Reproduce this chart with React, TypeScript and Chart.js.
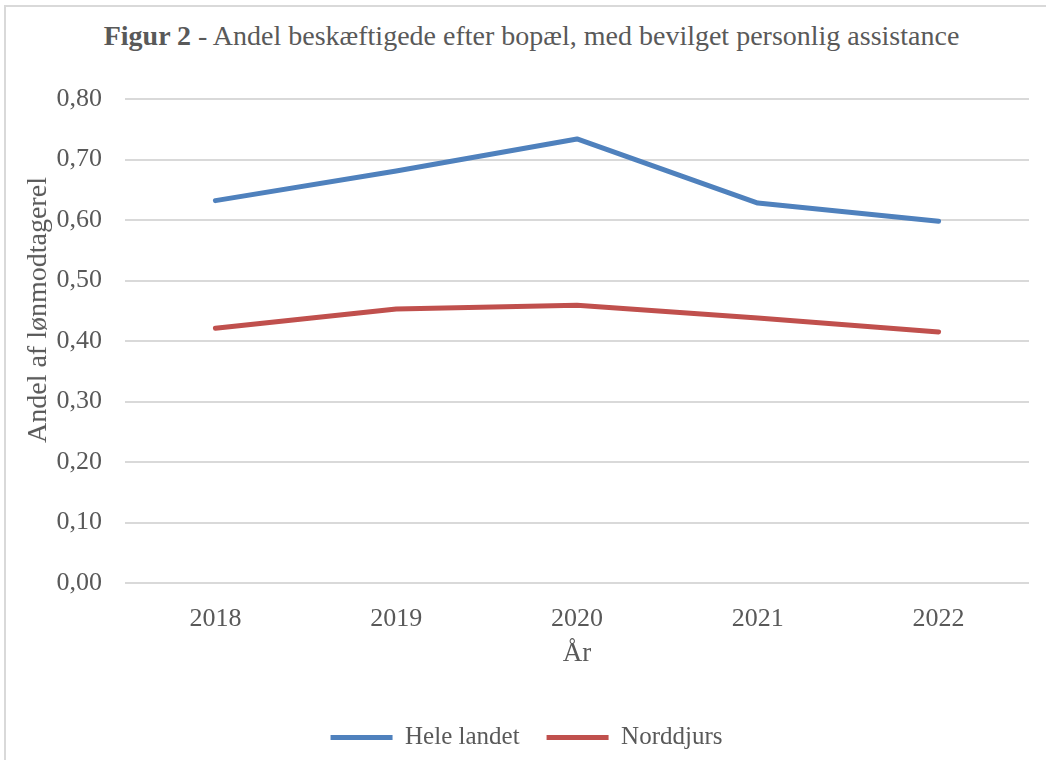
import { useEffect, useRef } from "react";
import { Chart, registerables } from "chart.js";

Chart.register(...registerables);

const years = ["2018", "2019", "2020", "2021", "2022"];
const heleLandet = [0.632, 0.681, 0.734, 0.628, 0.598];
const norddjurs = [0.421, 0.453, 0.459, 0.438, 0.415];
const seriesNames = ["Hele landet", "Norddjurs"];
const yMin = 0;
const yMax = 0.8;
const yStep = 0.1;
const yTitle = "Andel af lønmodtagerel";
const xTitle = "År";

const FONT = "'Liberation Serif', 'Times New Roman', serif";
const TEXT = "#595959";
const GRID = "#D9D9D9";

export default function App() {
  const canvasRef = useRef<HTMLCanvasElement | null>(null);

  useEffect(() => {
    if (!canvasRef.current) return;
    const chart = new Chart(canvasRef.current, {
      type: "line",
      data: {
        labels: years,
        datasets: [
          {
            label: seriesNames[0],
            data: heleLandet,
            borderColor: "#4F81BD",
            backgroundColor: "#4F81BD",
            borderWidth: 5,
            borderCapStyle: "round",
            borderJoinStyle: "round",
            pointRadius: 0,
            pointStyle: "line",
            tension: 0,
          },
          {
            label: seriesNames[1],
            data: norddjurs,
            borderColor: "#C0504D",
            backgroundColor: "#C0504D",
            borderWidth: 5,
            borderCapStyle: "round",
            borderJoinStyle: "round",
            pointRadius: 0,
            pointStyle: "line",
            tension: 0,
          },
        ],
      },
      options: {
        animation: false,
        responsive: true,
        maintainAspectRatio: false,
        layout: { padding: { top: 99, left: 24, right: 17, bottom: 0 } },
        plugins: {
          title: { display: false },
          tooltip: { enabled: false },
          legend: {
            position: "bottom",
            labels: {
              usePointStyle: true,
              pointStyle: "line",
              pointStyleWidth: 62,
              padding: 27,
              color: TEXT,
              font: { family: FONT, size: 25 },
            },
          },
        },
        scales: {
          x: {
            offset: true,
            grid: { display: false, drawTicks: false },
            border: { display: false },
            ticks: { color: TEXT, font: { family: FONT, size: 26 }, padding: 21 },
            title: {
              display: true,
              text: xTitle,
              color: TEXT,
              font: { family: FONT, size: 27 },
              padding: { top: 0, bottom: 28 },
            },
            afterFit: (axis: any) => {
              axis.height = 115;
            },
          },
          y: {
            min: yMin,
            max: yMax,
            grid: { color: GRID, lineWidth: 2, drawTicks: false },
            border: { display: false },
            ticks: {
              stepSize: yStep,
              color: TEXT,
              font: { family: FONT, size: 26 },
              padding: 23,
              callback: (v: any) => Number(v).toFixed(2).replace(".", ","),
            },
            title: { display: false },
            afterFit: (axis: any) => {
              axis.width = 101;
            },
          },
        },
      },
    });
    return () => chart.destroy();
  }, []);

  return (
    <div
      style={{
        position: "absolute",
        left: 0,
        top: 0,
        width: 1046,
        height: 760,
        overflow: "hidden",
        background: "#fff",
      }}
    >
      <div
        style={{
          position: "absolute",
          left: 4,
          top: 5,
          width: 1100,
          height: 800,
          border: `2px solid ${GRID}`,
          boxSizing: "border-box",
        }}
      />
      <div
        style={{
          position: "absolute",
          left: 0,
          top: 19,
          width: 1063,
          textAlign: "center",
          fontFamily: FONT,
          fontSize: 28,
          lineHeight: "34px",
          color: TEXT,
          whiteSpace: "nowrap",
        }}
      >
        <b>Figur 2</b> - Andel beskæftigede efter bopæl, med bevilget personlig assistance
      </div>
      <div style={{ position: "absolute", left: 0, top: 0, width: 1046, height: 760 }}>
        <canvas ref={canvasRef} />
      </div>
      <div
        style={{
          position: "absolute",
          left: 37,
          top: 310,
          width: 0,
          height: 0,
        }}
      >
        <div
          style={{
            position: "absolute",
            left: 0,
            top: 0,
            transform: "translate(-50%, -50%) rotate(-90deg)",
            fontFamily: FONT,
            fontSize: 28,
            lineHeight: "32px",
            color: TEXT,
            whiteSpace: "nowrap",
          }}
        >
          {yTitle}
        </div>
      </div>
    </div>
  );
}
